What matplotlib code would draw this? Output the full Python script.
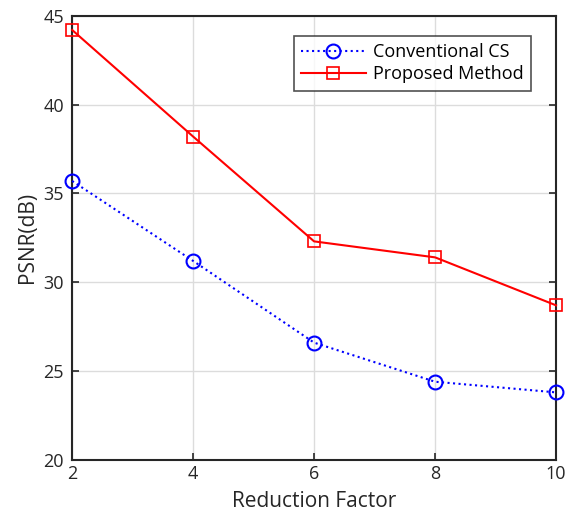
import matplotlib
matplotlib.use("Agg")
import matplotlib.pyplot as plt

plt.rcParams['font.family'] = ['Open Sans', 'DejaVu Sans']

reduction_factor = [2, 4, 6, 8, 10]
psnr_conventional = [35.7, 31.2, 26.6, 24.4, 23.8]
psnr_proposed = [44.2, 38.2, 32.3, 31.4, 28.7]
x_ticks = [2, 4, 6, 8, 10]
y_ticks = [20, 25, 30, 35, 40, 45]

fig = plt.figure(figsize=(5.68, 5.25), dpi=100)
ax = fig.add_axes([0.127, 0.124, 0.852, 0.846])

ax.plot(reduction_factor, psnr_conventional, linestyle=':', color='#0000ff',
        marker='o', markersize=10, markerfacecolor='none', markeredgewidth=1.5,
        linewidth=1.5, label='Conventional CS', clip_on=False, zorder=3)
ax.plot(reduction_factor, psnr_proposed, linestyle='-', color='#ff0000',
        marker='s', markersize=9, markerfacecolor='none', markeredgewidth=1.2,
        linewidth=1.5, label='Proposed Method', clip_on=False, zorder=3)

ax.set_xlim(2, 10)
ax.set_ylim(20, 45)
ax.set_xticks(x_ticks)
ax.set_yticks(y_ticks)
ax.grid(True, color='#dcdcdc', linewidth=1.0)
ax.set_axisbelow(True)
ax.tick_params(direction='in', length=5, width=1.2, labelsize=13,
               colors='#262626', top=False, right=True)
ax.tick_params(axis='y', pad=6)
for s in ax.spines.values():
    s.set_linewidth(1.5)
    s.set_color('#262626')

ax.set_xlabel('Reduction Factor', fontsize=15, color='#262626', labelpad=6)
ax.set_ylabel('PSNR(dB)', fontsize=15, color='#262626', labelpad=4)

leg = ax.legend(loc='upper right', bbox_to_anchor=(0.948, 0.955), fontsize=13,
                frameon=True, fancybox=False, edgecolor='#262626',
                handlelength=3.6, borderpad=0.4, labelspacing=0.25,
                handletextpad=0.4, borderaxespad=0)
leg.get_frame().set_linewidth(1.2)

fig.savefig('out.png', dpi=100)
